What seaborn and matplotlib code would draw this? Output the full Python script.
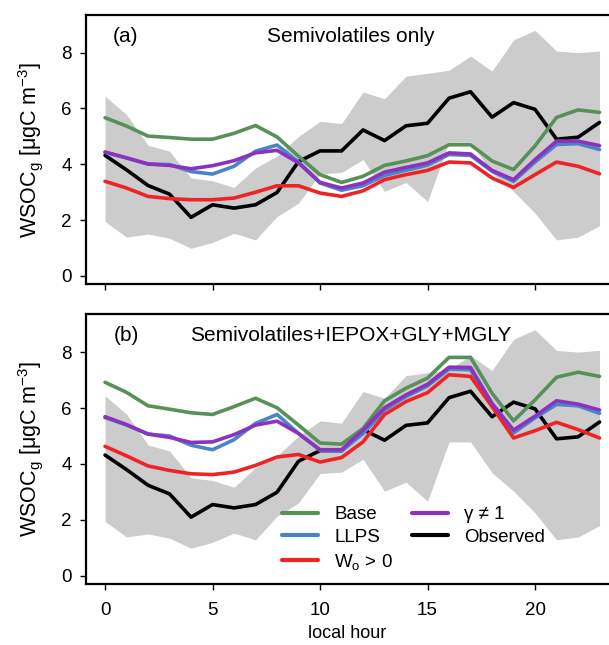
import pandas as pd
import matplotlib.pyplot as plt
import seaborn as sns

hours = list(range(24))

# observations (same in both panels) and their spread
observed = [4.32, 3.80, 3.24, 2.93, 2.10, 2.55, 2.43, 2.55, 2.99, 4.10, 4.48, 4.48,
            5.23, 4.85, 5.38, 5.47, 6.37, 6.60, 5.69, 6.21, 5.97, 4.90, 4.97, 5.50]
obs_low = [1.95, 1.39, 1.50, 1.35, 0.99, 1.20, 1.53, 1.29, 2.13, 2.61, 3.66, 3.71,
           4.17, 3.03, 3.35, 2.67, 4.79, 4.79, 3.69, 3.03, 2.25, 1.29, 1.39, 1.80]
obs_high = [6.44, 5.78, 4.68, 4.47, 3.51, 3.41, 3.17, 3.87, 4.29, 5.00, 5.54, 5.46,
            6.59, 6.35, 7.16, 7.26, 7.37, 7.88, 7.34, 8.46, 8.80, 8.06, 8.00, 8.06]

# (a) semivolatiles only
base_a = [5.67, 5.37, 5.01, 4.96, 4.90, 4.90, 5.11, 5.39, 4.98, 4.29, 3.63, 3.35,
          3.57, 3.96, 4.12, 4.31, 4.70, 4.70, 4.12, 3.81, 4.66, 5.68, 5.95, 5.86]
llps_a = [4.43, 4.23, 4.01, 3.99, 3.74, 3.65, 3.93, 4.47, 4.69, 4.08, 3.33, 3.07,
          3.23, 3.60, 3.79, 3.97, 4.35, 4.32, 3.75, 3.39, 4.08, 4.71, 4.74, 4.53]
wo_a = [3.39, 3.15, 2.85, 2.77, 2.73, 2.73, 2.79, 3.00, 3.23, 3.23, 2.97, 2.85,
        3.05, 3.45, 3.63, 3.78, 4.08, 4.05, 3.51, 3.17, 3.63, 4.08, 3.93, 3.66]
gamma_a = [4.44, 4.23, 4.01, 3.96, 3.84, 3.95, 4.13, 4.41, 4.50, 4.05, 3.35, 3.15,
           3.33, 3.72, 3.89, 4.05, 4.41, 4.37, 3.78, 3.45, 4.17, 4.83, 4.83, 4.67]

# (b) semivolatiles + IEPOX + GLY + MGLY
base_b = [6.92, 6.56, 6.08, 5.96, 5.83, 5.77, 6.05, 6.35, 6.01, 5.39, 4.75, 4.71,
          5.27, 6.26, 6.71, 7.07, 7.81, 7.81, 6.53, 5.54, 6.29, 7.10, 7.28, 7.13]
llps_b = [5.66, 5.39, 5.07, 5.00, 4.67, 4.51, 4.87, 5.45, 5.77, 5.09, 4.49, 4.46,
          5.09, 5.93, 6.41, 6.79, 7.39, 7.37, 6.11, 5.11, 5.65, 6.13, 6.08, 5.81]
wo_b = [4.63, 4.29, 3.93, 3.77, 3.65, 3.62, 3.71, 3.95, 4.25, 4.34, 4.07, 4.23,
        4.79, 5.77, 6.23, 6.55, 7.19, 7.13, 6.05, 4.93, 5.19, 5.49, 5.23, 4.93]
gamma_b = [5.69, 5.41, 5.07, 4.95, 4.77, 4.79, 5.05, 5.39, 5.53, 5.09, 4.51, 4.51,
           5.21, 6.01, 6.47, 6.85, 7.46, 7.45, 6.17, 5.21, 5.71, 6.26, 6.14, 5.93]

names = ["Observed", "Base", "LLPS", "W$_\\mathrm{o}$ > 0", "γ ≠ 1"]
legend_order = ["Base", "LLPS", "W$_\\mathrm{o}$ > 0", "γ ≠ 1", "Observed"]
colors = {"Observed": "black", "Base": "#58905a", "LLPS": "#4a84c8",
          "W$_\\mathrm{o}$ > 0": "#ee2424", "γ ≠ 1": "#8c32be"}


def long_form(series):
    rows = []
    for name, vals in zip(names, series):
        for h, v in zip(hours, vals):
            rows.append({"hour": h, "wsoc": v, "run": name})
    return pd.DataFrame(rows)


panels = [
    ("(a)", "Semivolatiles only", [observed, base_a, llps_a, wo_a, gamma_a]),
    ("(b)", "Semivolatiles+IEPOX+GLY+MGLY", [observed, base_b, llps_b, wo_b, gamma_b]),
]

sns.set_style("ticks")
plt.rcParams["font.family"] = ["Liberation Sans", "DejaVu Sans"]
plt.rcParams["mathtext.fontset"] = "custom"
plt.rcParams["mathtext.rm"] = "Liberation Sans"
plt.rcParams["mathtext.it"] = "Liberation Sans:italic"
plt.rcParams["mathtext.default"] = "regular"
for k in ["text.color", "axes.labelcolor", "xtick.color", "ytick.color", "axes.edgecolor"]:
    plt.rcParams[k] = "black"

fig = plt.figure(figsize=(6.09, 6.45), dpi=100)
left = 85.7 / 609
width = 1 - left
axes = [fig.add_axes([left, 1 - 284.3 / 645, width, 269.3 / 645]),
        fig.add_axes([left, 1 - 584.3 / 645, width, 270 / 645])]

for ax, (tag, title, series) in zip(axes, panels):
    ax.fill_between(hours, obs_low, obs_high, color="#cccccc", lw=0, zorder=1)
    sns.lineplot(data=long_form(series), x="hour", y="wsoc", hue="run",
                 hue_order=names, palette=colors, lw=2.6, ax=ax, zorder=3,
                 legend=(tag == "(b)"))
    ax.set_xlim(-0.9, 23.44)
    ax.set_ylim(-0.3, 9.35)
    ax.set_xticks([0, 5, 10, 15, 20])
    ax.set_yticks([0, 2, 4, 6, 8])
    ax.set_ylabel("WSOC$_g$ [μgC m$^{-3}$]", fontsize=15.5, labelpad=12)
    ax.spines["right"].set_visible(False)
    for s in ["left", "top", "bottom"]:
        ax.spines[s].set_linewidth(1.6)
    ax.tick_params(direction="out", length=4, width=1, labelsize=13.5)
    ax.tick_params(axis="y", pad=6)
    ax.tick_params(axis="x", pad=9)
    ax.text(0.077, 0.92, tag, transform=ax.transAxes, fontsize=15,
            ha="center", va="center")
    ax.text(0.507, 0.92, title, transform=ax.transAxes, fontsize=15,
            ha="center", va="center")

axes[0].set_xlabel("")
axes[0].tick_params(labelbottom=False)
axes[1].set_xlabel("local hour", fontsize=13, labelpad=4)

handles, labels = axes[1].get_legend_handles_labels()
lookup = dict(zip(labels, handles))
leg = axes[1].legend([lookup[n] for n in legend_order], legend_order,
                     loc="upper left", bbox_to_anchor=(0.3745, 0.29), ncol=2,
                     frameon=False, fontsize=13.5, borderaxespad=0, borderpad=0,
                     handlelength=1.95, handletextpad=0.85, columnspacing=1.0,
                     labelspacing=0.3)
for line in leg.get_lines():
    line.set_linewidth(3)

fig.savefig("out.png", dpi=100)
